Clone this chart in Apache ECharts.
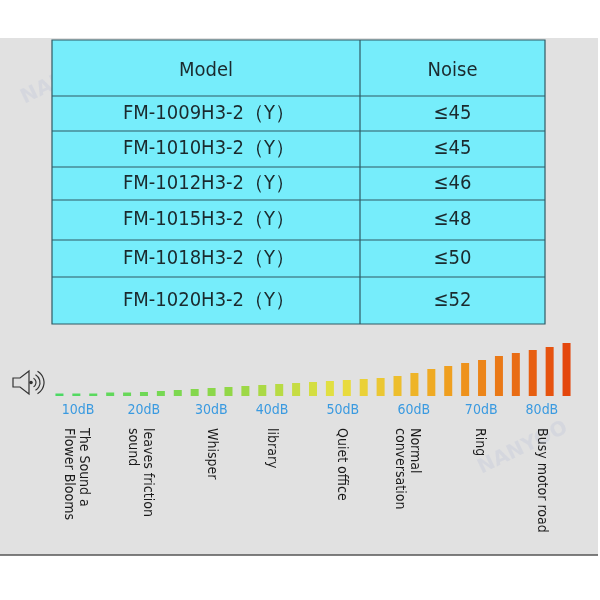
<!DOCTYPE html>
<html><head><meta charset="utf-8">
<script src="https://cdn.jsdelivr.net/npm/echarts@6/dist/echarts.min.js"></script>
<style>html,body{margin:0;padding:0;background:#fff}#c{width:600px;height:600px}</style>
</head><body><div id="c"></div>
<script>
const headers = ['Model', 'Noise'];
const models = ['FM-1009H3-2（Y）','FM-1010H3-2（Y）','FM-1012H3-2（Y）','FM-1015H3-2（Y）','FM-1018H3-2（Y）','FM-1020H3-2（Y）'];
const noise = ['≤45','≤45','≤46','≤48','≤50','≤52'];
const barLevels = [2.5,2.5,2.5,3.5,3.5,4,5,6,7,8,9,10,11,12,13,14,15,16,17,18,20,23,27,30,33,36,40,43,46,49,53];
const dbLabels = ['10dB','20dB','30dB','40dB','50dB','60dB','70dB','80dB'];
const dbIndex = [1.1,5,9,12.6,16.8,21,25,28.6];
const sources = [['The Sound a','Flower Blooms'],['leaves friction','sound'],['Whisper'],['library'],['Quiet office'],['Normal','conversation'],['Ring'],['Busy motor road']];
const sourceIndex = [1.0,4.8,9,12.6,16.7,20.6,24.9,28.6];

const chart = echarts.init(document.getElementById('c'));
const stops = [[0,[76,217,100]],[0.35,[150,215,70]],[0.55,[232,224,64]],[0.75,[240,165,32]],[1,[228,70,12]]];
function colorAt(t){
  for(let i=1;i<stops.length;i++){
    if(t<=stops[i][0]){const a=stops[i-1],b=stops[i];const f=(t-a[0])/(b[0]-a[0]);
      const c=a[1].map((v,k)=>Math.round(v+(b[1][k]-v)*f));return 'rgb('+c.join(',')+')';}
  }
  return 'rgb(228,70,12)';
}
const barData = barLevels.map((v,i)=>({value:v,itemStyle:{color:colorAt(i/(barLevels.length-1))}}));

chart.setOption({
  animation:false,
  grid:{left:51,right:25,top:340,height:56},
  xAxis:{type:'category',data:barLevels.map((_,i)=>i),show:false},
  yAxis:{type:'value',min:0,max:56,show:false},
  series:[{type:'bar',data:barData,barWidth:8,silent:true}]
});

const rowY=[40,96,131,167,200,240,277,324];
const tx0=52,tx1=545,txm=360;
const g=[];
g.push({type:'rect',z:-10,shape:{x:0,y:38,width:598,height:517},style:{fill:'#e1e1e1'}});
g.push({type:'line',z:-9,shape:{x1:0,y1:555,x2:598,y2:555},style:{stroke:'#555',lineWidth:1.5}});
g.push({type:'text',z:-8,x:18,y:90,rotation:Math.PI/7,style:{text:'NANYOO',font:'bold 20px "DejaVu Sans"',fill:'rgba(200,205,220,0.45)'}});
g.push({type:'text',z:-8,x:475,y:460,rotation:Math.PI/7,style:{text:'NANYOO',font:'bold 20px "DejaVu Sans"',fill:'rgba(200,205,220,0.45)'}});
g.push({type:'rect',shape:{x:tx0,y:rowY[0],width:tx1-tx0,height:rowY[7]-rowY[0]},style:{fill:'#76edfb',stroke:'#2f5a64',lineWidth:1.2}});
g.push({type:'line',shape:{x1:txm,y1:rowY[0],x2:txm,y2:rowY[7]},style:{stroke:'#2f5a64',lineWidth:1.2}});
for(let i=1;i<7;i++) g.push({type:'line',shape:{x1:tx0,y1:rowY[i],x2:tx1,y2:rowY[i]},style:{stroke:'#2f5a64',lineWidth:1.2}});
const font='20px "DejaVu Sans Condensed", "DejaVu Sans", sans-serif';
g.push({type:'text',x:(tx0+txm)/2,y:(rowY[0]+rowY[1])/2+3,style:{text:headers[0],font,fill:'#1b2a2e',align:'center',verticalAlign:'middle'}});
g.push({type:'text',x:(txm+tx1)/2,y:(rowY[0]+rowY[1])/2+3,style:{text:headers[1],font,fill:'#1b2a2e',align:'center',verticalAlign:'middle'}});
models.forEach((m,i)=>{
  const y=(rowY[i+1]+rowY[i+2])/2;
  g.push({type:'text',x:(tx0+txm)/2+3,y,style:{text:m,font,fill:'#1b2a2e',align:'center',verticalAlign:'middle'}});
  g.push({type:'text',x:(txm+tx1)/2,y,style:{text:noise[i],font,fill:'#1b2a2e',align:'center',verticalAlign:'middle'}});
});
g.push({type:'polygon',shape:{points:[[13,378],[20,378],[29,371],[29,394],[20,387],[13,387]]},style:{fill:'none',stroke:'#333',lineWidth:1.2}});
[5,9,13].forEach(r=>g.push({type:'arc',shape:{cx:31,cy:382.5,r,startAngle:-Math.PI/3,endAngle:Math.PI/3},style:{stroke:'#333',fill:'none',lineWidth:1.2}}));
g.push({type:'circle',shape:{cx:31,cy:382.5,r:1.8},style:{fill:'#333'}});
const x0=chart.convertToPixel({xAxisIndex:0},0);
const sfont='14px "DejaVu Sans Condensed", "DejaVu Sans", sans-serif';
dbLabels.forEach((t,i)=>{
  g.push({type:'text',x:x0+dbIndex[i]*16.87,y:410,style:{text:t,font:sfont,fill:'#3a9ae0',align:'center',verticalAlign:'middle'}});
});
sources.forEach((lines,i)=>{
  const x=x0+sourceIndex[i]*16.87;
  g.push({type:'text',x,y:428,rotation:-Math.PI/2,style:{text:lines.join('\n'),font:sfont,fill:'#1a1a1a',align:'left',verticalAlign:'middle',lineHeight:15}});
});
chart.setOption({graphic:g});
</script></body></html>
